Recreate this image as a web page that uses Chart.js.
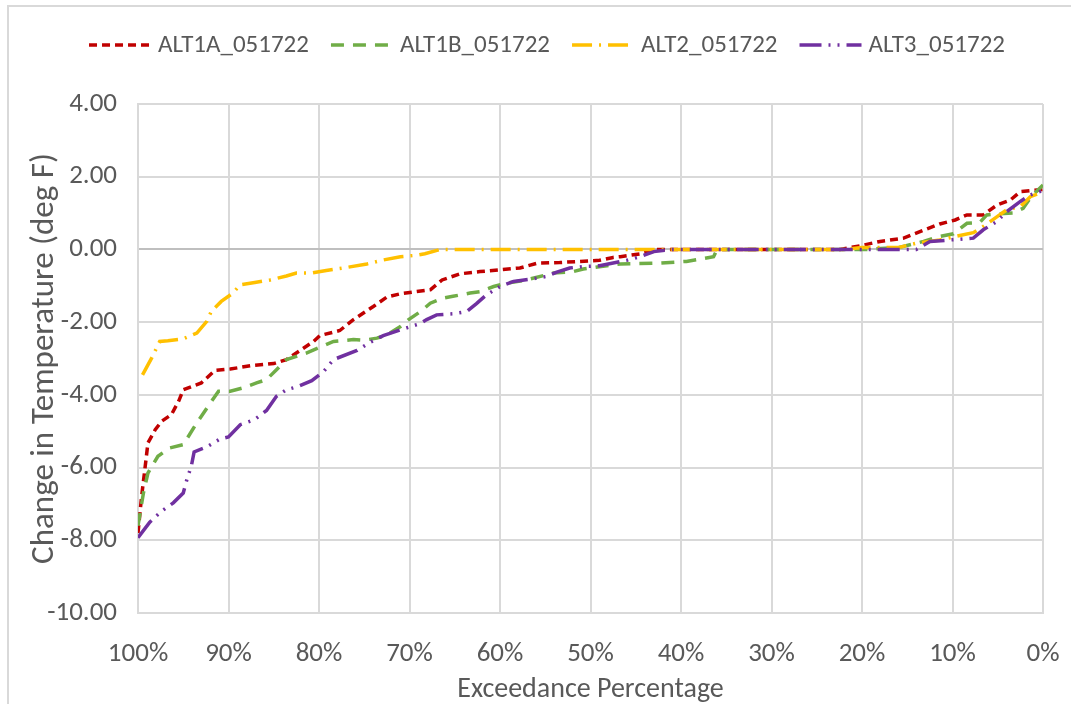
<!DOCTYPE html>
<html>
<head>
<meta charset="utf-8">
<script src="https://cdn.jsdelivr.net/npm/chart.js@4.4.0/dist/chart.umd.min.js"></script>
<style>
  body { margin: 0; background: #fff; }
  #wrap { position: relative; width: 1071px; height: 704px; overflow: hidden; }
  #frame { position: absolute; left: 7px; top: 5px; right: -4px; bottom: -4px; border-left: 2px solid #d9d9d9; border-top: 2px solid #d9d9d9; }
  #chart { position: absolute; left: 0; top: 0; }
</style>
</head>
<body>
<div id="wrap">
  <div id="frame"></div>
  <canvas id="chart" width="1071" height="704"></canvas>
</div>
<script>
// exceedance percentage (x) and change in temperature (y)
var alt1aPct = [100, 99.6, 99.2, 98.9, 98.1, 97.4, 96.3, 95.5, 95, 93, 91.5, 89.8, 87.6, 85, 83.6, 80.6, 79.9, 77.7, 76.2, 74, 72.5, 71, 69.2, 67.7, 66.4, 64.4, 62.2, 60, 57.8, 55.9, 53.4, 51.2, 49, 47.5, 46.7, 44.5, 42.7, 30, 22.4, 20.2, 18, 15.4, 13.6, 11.4, 9.7, 8.4, 6.6, 5.1, 3.6, 2.5, 0];
var alt1aVal = [-7.8, -6.79, -5.96, -5.32, -4.96, -4.73, -4.54, -4.17, -3.86, -3.67, -3.33, -3.29, -3.2, -3.14, -3.03, -2.53, -2.37, -2.23, -1.93, -1.57, -1.31, -1.22, -1.16, -1.11, -0.84, -0.67, -0.61, -0.56, -0.51, -0.38, -0.36, -0.33, -0.3, -0.22, -0.2, -0.12, 0, 0, 0, 0.1, 0.22, 0.31, 0.49, 0.7, 0.81, 0.95, 0.95, 1.22, 1.36, 1.59, 1.65];

var alt1bPct = [100, 99.4, 98.9, 97.8, 96.5, 95, 94.3, 93.5, 92, 91.1, 89.8, 88.4, 86.9, 85.8, 84.7, 83.6, 81.4, 79.5, 78.4, 76.2, 75.1, 73.6, 72.5, 71, 70.1, 68.8, 67.7, 66.3, 65.2, 63.3, 62.2, 60.7, 59.3, 57.1, 54.1, 51.9, 50.8, 48.2, 46.7, 42.7, 39.4, 36.4, 36, 30, 19.5, 16, 13.2, 11.4, 9.9, 8.4, 7, 6.2, 4.8, 3.3, 2.2, 1.3, 0];
var alt1bVal = [-7.6, -6.7, -6.15, -5.69, -5.46, -5.37, -5.09, -4.77, -4.22, -3.9, -3.9, -3.81, -3.67, -3.58, -3.31, -3.03, -2.85, -2.65, -2.53, -2.48, -2.5, -2.44, -2.35, -2.12, -1.93, -1.71, -1.48, -1.34, -1.29, -1.2, -1.16, -1.02, -0.93, -0.84, -0.65, -0.61, -0.54, -0.45, -0.4, -0.38, -0.33, -0.2, 0, 0, 0, 0.05, 0.22, 0.36, 0.43, 0.72, 0.74, 0.95, 0.98, 1.0, 1.13, 1.45, 1.77];

var alt2Pct = [99.5, 98.5, 97.6, 96.7, 95, 93.5, 92.4, 91.9, 90.8, 89.5, 88.7, 87.1, 85.4, 83.6, 82.5, 80.8, 79.2, 77.3, 74.7, 72.9, 71, 69.2, 68.3, 66.6, 30, 22, 20, 16, 14, 11.4, 9.6, 7.7, 6.6, 5.3, 4, 2.5, 1.4, 0];
var alt2Val = [-3.45, -2.99, -2.53, -2.51, -2.46, -2.3, -1.98, -1.7, -1.43, -1.2, -0.97, -0.91, -0.84, -0.73, -0.65, -0.65, -0.58, -0.51, -0.4, -0.29, -0.2, -0.16, -0.12, 0, 0, 0, 0.05, 0.05, 0.17, 0.26, 0.36, 0.46, 0.63, 0.86, 1.09, 1.18, 1.45, 1.59];

var alt3Pct = [100, 98.7, 97.4, 96.1, 95, 94.6, 94.1, 93.8, 92.4, 90.9, 90, 88.7, 87.1, 85.8, 84.7, 83.6, 82.3, 80.8, 79.5, 78.4, 75.8, 74.4, 72.9, 71, 68.8, 68.1, 67, 65.2, 63.7, 62.6, 61.5, 60, 58.5, 56.7, 54.8, 53.8, 52.3, 50.8, 49, 46, 44.5, 43, 41, 30, 14, 12.5, 10.8, 9.2, 7.7, 6.6, 5.1, 4, 2.5, 1.4, 0];
var alt3Val = [-7.93, -7.5, -7.2, -6.97, -6.7, -6.33, -5.95, -5.57, -5.43, -5.21, -5.16, -4.82, -4.68, -4.43, -4.04, -3.86, -3.77, -3.61, -3.36, -3.03, -2.78, -2.56, -2.37, -2.21, -2.04, -1.93, -1.8, -1.77, -1.71, -1.49, -1.25, -1.02, -0.88, -0.82, -0.74, -0.63, -0.51, -0.47, -0.45, -0.3, -0.2, -0.06, 0, 0, 0, 0.22, 0.25, 0.28, 0.31, 0.54, 0.77, 1.04, 1.32, 1.5, 1.62];

var seriesNames = ['ALT1A_051722', 'ALT1B_051722', 'ALT2_051722', 'ALT3_051722'];
var seriesColors = ['#C00000', '#70AD47', '#FFC000', '#7030A0'];
var seriesDashes = [[8, 5], [13, 9], [20, 7, 2, 7], [22, 7, 2, 7, 2, 7]];

var yMin = -10, yMax = 4, yStep = 2;
var xMin = 0, xMax = 100, xStep = 10;

var fontFamily = 'Carlito, Calibri, "Liberation Sans", Arial, sans-serif';
var textColor = '#595959';
var gridColor = '#d9d9d9';

function toPoints(pct, val) {
  var pts = [];
  for (var i = 0; i < pct.length; i++) {
    pts.push({x: pct[i], y: val[i]});
  }
  return pts;
}

var allPct = [alt1aPct, alt1bPct, alt2Pct, alt3Pct];
var allVal = [alt1aVal, alt1bVal, alt2Val, alt3Val];
var datasets = [];
for (var i = 0; i < seriesNames.length; i++) {
  datasets.push({
    label: seriesNames[i],
    data: toPoints(allPct[i], allVal[i]),
    borderColor: seriesColors[i],
    backgroundColor: seriesColors[i],
    borderWidth: 3.5,
    borderDash: seriesDashes[i],
    borderCapStyle: 'butt',
    pointRadius: 0,
    tension: 0,
    fill: false,
    order: seriesNames.length - i // ALT3 drawn on top like the original
  });
}

// legend drawn by hand so the dash patterns show in the keys
var dashLegendPlugin = {
  id: 'dashLegend',
  afterDraw: function(chart) {
    var c = chart.ctx;
    var sets = chart.data.datasets;
    var lineLen = 62, textGap = 7, itemGap = 22, centerX = 547, centerY = 45;
    c.save();
    c.font = '25px ' + fontFamily;
    var total = 0;
    var widths = [];
    for (var i = 0; i < sets.length; i++) {
      widths.push(c.measureText(sets[i].label).width);
      total += lineLen + textGap + widths[i];
    }
    total += itemGap * (sets.length - 1);
    var x = centerX - total / 2;
    for (var j = 0; j < sets.length; j++) {
      c.strokeStyle = sets[j].borderColor;
      c.lineWidth = sets[j].borderWidth;
      c.setLineDash(sets[j].borderDash);
      c.beginPath();
      c.moveTo(x, centerY);
      c.lineTo(x + lineLen, centerY);
      c.stroke();
      c.setLineDash([]);
      c.fillStyle = textColor;
      c.textBaseline = 'middle';
      c.textAlign = 'left';
      c.fillText(sets[j].label, x + lineLen + textGap, centerY + 1);
      x += lineLen + textGap + widths[j] + itemGap;
    }
    c.restore();
  }
};

var ctx = document.getElementById('chart').getContext('2d');
var myChart = new Chart(ctx, {
  type: 'line',
  data: {datasets: datasets},
  plugins: [dashLegendPlugin],
  options: {
    responsive: false,
    animation: false,
    layout: {padding: {left: 8, right: 28, top: 104, bottom: 0}},
    plugins: {
      tooltip: {enabled: false},
      legend: {display: false}
    },
    scales: {
      x: {
        type: 'linear',
        reverse: true,
        min: xMin,
        max: xMax,
        afterFit: function(scale) {
          scale.height = 91;
          scale.paddingRight = 15;
          scale.paddingLeft = 0;
        },
        ticks: {
          stepSize: xStep,
          autoSkip: false,
          maxRotation: 0,
          padding: 25,
          color: textColor,
          font: {family: fontFamily, size: 27},
          callback: function(v) { return v + '%'; }
        },
        grid: {color: gridColor, lineWidth: 2, drawTicks: false},
        border: {color: gridColor, width: 2},
        title: {
          display: true,
          text: 'Exceedance Percentage',
          color: textColor,
          font: {family: fontFamily, size: 28},
          padding: {top: 0, bottom: -3}
        }
      },
      y: {
        min: yMin,
        max: yMax,
        afterFit: function(scale) { scale.width = 130; },
        ticks: {
          stepSize: yStep,
          padding: 21,
          color: textColor,
          font: {family: fontFamily, size: 27},
          callback: function(v) { return v.toFixed(2); }
        },
        grid: {
          lineWidth: 2,
          drawTicks: false,
          color: function(c) { return c.tick && c.tick.value === 0 ? '#bfbfbf' : gridColor; }
        },
        border: {color: gridColor, width: 2},
        title: {
          display: true,
          text: 'Change in Temperature (deg F)',
          color: textColor,
          font: {family: fontFamily, size: 33},
          padding: {top: 17, bottom: 0}
        }
      }
    }
  }
});
</script>
</body>
</html>
